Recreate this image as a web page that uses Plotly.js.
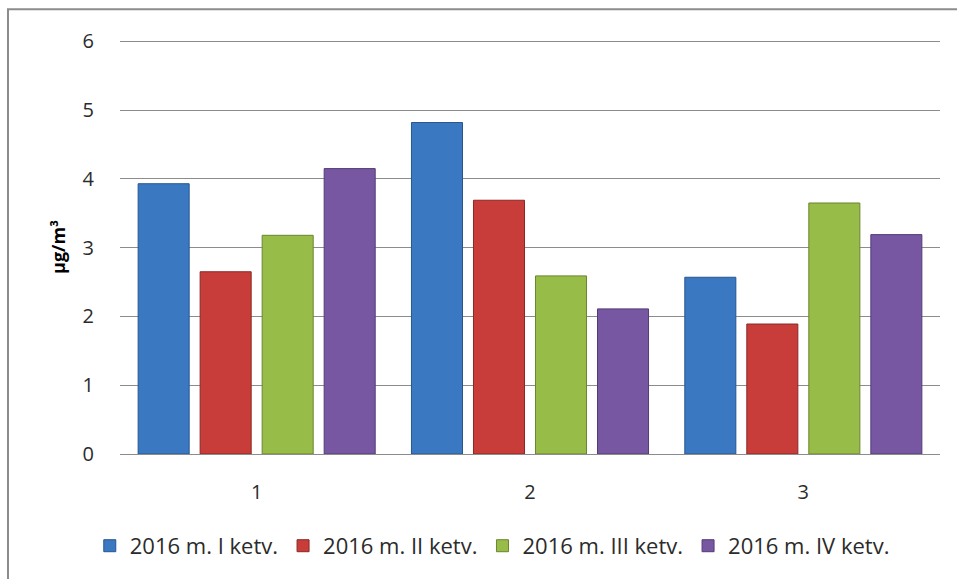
<!DOCTYPE html>
<html>
<head>
<meta charset="utf-8">
<script src="https://cdn.plot.ly/plotly-3.0.1.min.js"></script>
<style>html,body{margin:0;padding:0;background:#fff;}#chart{width:957px;height:579px;}</style>
</head>
<body>
<div id="chart"></div>
<script>
var categories = ["1", "2", "3"];
var seriesNames = ["2016 m. I ketv.", "2016 m. II ketv.", "2016 m. III ketv.", "2016 m. IV ketv."];
var q1 = [3.93, 4.82, 2.57];
var q2 = [2.65, 3.69, 1.89];
var q3 = [3.18, 2.59, 3.65];
var q4 = [4.15, 2.11, 3.19];
var yTicks = [0, 1, 2, 3, 4, 5, 6];
var yTitle = "µg/m³";

var fills = ["#3B78C2", "#C83D39", "#98BC48", "#7857A2"];
var edges = ["#27568F", "#8A2825", "#6A8530", "#523C74"];
var values = [q1, q2, q3, q4];

var traces = values.map(function (v, i) {
  return {
    type: "bar",
    name: seriesNames[i],
    x: categories,
    y: v,
    marker: { color: fills[i], line: { color: edges[i], width: 1 } },
    hoverinfo: "y"
  };
});

var font = "'Open Sans', Lato, sans-serif";
var layout = {
  width: 957,
  height: 579,
  margin: { l: 120, r: 17, t: 40, b: 123 },
  paper_bgcolor: "#ffffff",
  plot_bgcolor: "#ffffff",
  barmode: "group",
  bargap: 0.0925,
  bargroupgap: 0.177,
  font: { family: font, color: "#2b2b2b", size: 20 },
  xaxis: {
    type: "category",
    showgrid: false,
    showline: true,
    linecolor: "#8c8c8c",
    linewidth: 1,
    ticks: "",
    ticklabelstandoff: 20,
    tickfont: { family: font, size: 20, color: "#2b2b2b" }
  },
  yaxis: {
    range: [0, 6.02],
    tickvals: yTicks,
    showgrid: true,
    gridcolor: "#8c8c8c",
    gridwidth: 1,
    zeroline: false,
    showline: false,
    ticks: "",
    ticklabelstandoff: 25,
    tickfont: { family: font, size: 20, color: "#2b2b2b" },
    title: { text: yTitle, font: { family: font, size: 18, color: "#000000", weight: "bold" }, standoff: 12 }
  },
  showlegend: true,
  legend: {
    orientation: "h",
    x: 0.454,
    xanchor: "center",
    y: -0.222,
    yanchor: "middle",
    font: { family: font, size: 22, color: "#2b2b2b" },
    itemwidth: 30,
    tracegroupgap: 0
  },
  shapes: [{
    type: "rect",
    xref: "paper", yref: "paper",
    x0: -0.1366, x1: 1.2,
    y0: -0.4, y1: 1.0745,
    line: { color: "#8c8c8c", width: 2 },
    fillcolor: "rgba(0,0,0,0)",
    layer: "below"
  }]
};

Plotly.newPlot("chart", traces, layout, { displayModeBar: false, staticPlot: true });
</script>
</body>
</html>
